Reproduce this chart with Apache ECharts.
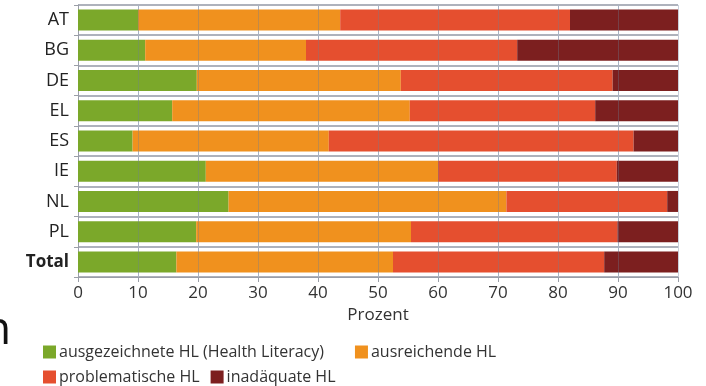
<!DOCTYPE html>
<html><head><meta charset="utf-8">
<script src="https://cdn.jsdelivr.net/npm/echarts@6/dist/echarts.min.js"></script>
<style>html,body{margin:0;padding:0;background:#fff}#c{width:706px;height:386px}</style>
</head><body><div id="c"></div>
<script>
const categories = ['AT','BG','DE','EL','ES','IE','NL','PL','Total'];
const seriesNames = ['ausgezeichnete HL (Health Literacy)','ausreichende HL','problematische HL','inadäquate HL'];
const ausgezeichnet = [10.0, 11.2, 19.8, 15.7, 9.1, 21.3, 25.1, 19.7, 16.4];
const ausreichend   = [33.7, 26.8, 34.0, 39.6, 32.7, 38.7, 46.3, 35.8, 36.1];
const problematisch = [38.3, 35.2, 35.3, 30.9, 50.8, 29.8, 26.8, 34.4, 35.2];
const inadaequat    = [18.0, 26.8, 10.9, 13.8, 7.4, 10.2, 1.8, 10.1, 12.3];
const xTicks = [0,10,20,30,40,50,60,70,80,90,100];
const colors = ['#7ba82a','#f0911e','#e54f2f','#7c1f1f'];
const values = [ausgezeichnet, ausreichend, problematisch, inadaequat];
const FONT = '"Open Sans", "Noto Sans", sans-serif';

const chart = echarts.init(document.getElementById('c'));
const series = seriesNames.map((n,i)=>({
  name:n, type:'bar', stack:'s', data:values[i], barWidth:21,
  itemStyle:{color:colors[i]}, silent:true, animation:false
}));
series[3].markLine = {
  silent:true, symbol:'none', label:{show:false}, animation:false,
  lineStyle:{color:'rgba(110,125,150,0.35)', width:1, type:'solid'},
  data: xTicks.slice(1,-1).map(v=>({xAxis:v}))
};
chart.setOption({
  animation:false,
  textStyle:{fontFamily:FONT},
  grid:{left:78, right:28, top:5, bottom:109},
  xAxis:{
    type:'value', min:0, max:100, interval:10,
    name:'Prozent', nameLocation:'middle', nameGap:30,
    nameTextStyle:{fontSize:17, color:'#333', fontFamily:FONT},
    axisLine:{show:true, lineStyle:{color:'#9a9ea8', width:1}},
    axisTick:{show:true, length:5, lineStyle:{color:'#9a9ea8'}},
    axisLabel:{fontSize:17, color:'#333', margin:8, fontFamily:FONT},
    splitLine:{show:true, lineStyle:{color:'#c9d0dc', width:1}}
  },
  yAxis:{
    type:'category', data:categories, inverse:true,
    axisLine:{show:true, lineStyle:{color:'#9a9ea8'}},
    axisTick:{show:true, length:4, lineStyle:{color:'#9a9ea8'}},
    axisLabel:{fontSize:18, color:'#222', margin:9, fontFamily:FONT,
      formatter:v=> v==='Total' ? '{b|'+v+'}' : v,
      rich:{b:{fontWeight:'bold', fontSize:17, color:'#222', fontFamily:FONT}}},
    splitLine:{show:true, lineStyle:{color:'#aeb2bc', width:2}}
  },
  legend:[
    {data:seriesNames.slice(0,2), left:38, top:339, itemWidth:13, itemHeight:13, itemGap:31,
     icon:'rect', textStyle:{fontSize:16, color:'#333', fontFamily:FONT, padding:[0,0,0,-2]}},
    {data:seriesNames.slice(2,4), left:38, top:364, itemWidth:13, itemHeight:13, itemGap:11,
     icon:'rect', textStyle:{fontSize:16, color:'#333', fontFamily:FONT, padding:[0,0,0,-2]}}
  ],
  graphic:[{type:'text', left:-17, top:308, style:{text:'n', fontSize:46, fill:'#111', fontFamily:FONT}}],
  series
});
</script></body></html>
